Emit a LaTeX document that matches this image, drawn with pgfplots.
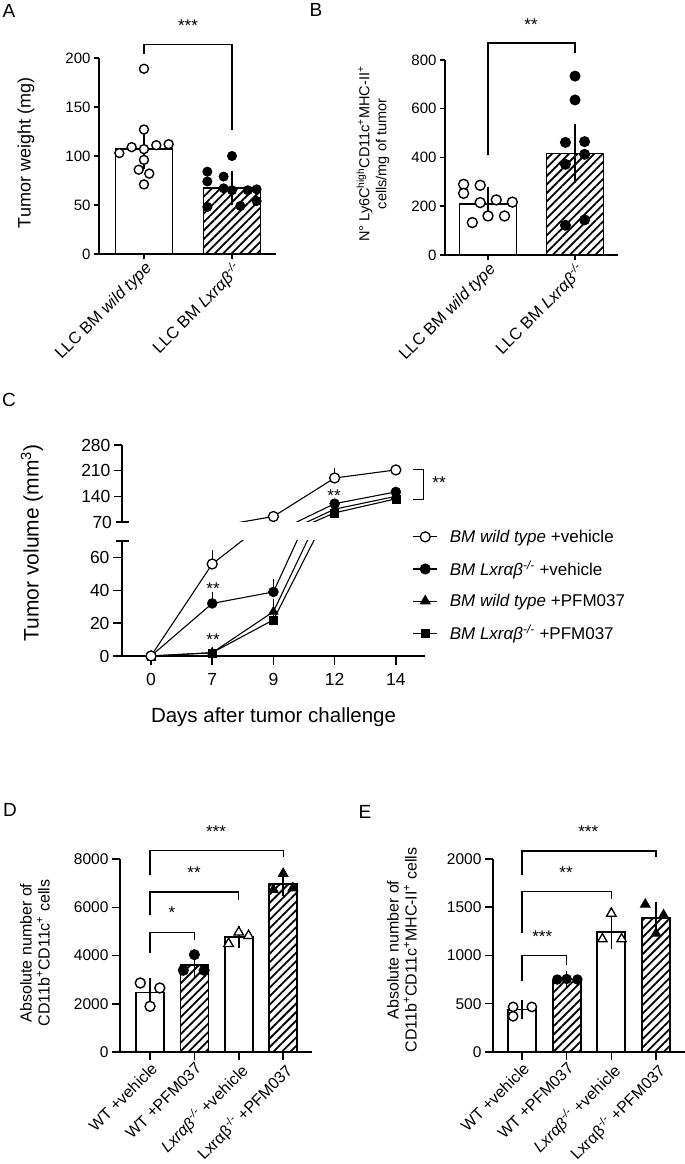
\documentclass[border=0pt]{standalone}
\usepackage{pgfplots}
\pgfplotsset{compat=1.18}
\usepackage{pgfplotstable}
\usepackage{fontspec}
\setmainfont{Liberation Sans}
\usetikzlibrary{patterns.meta}

\newcommand{\fTick}{\fontsize{15}{18}\selectfont}
\newcommand{\fTickC}{\fontsize{17.5}{20}\selectfont}
\newcommand{\fTickD}{\fontsize{15.5}{18}\selectfont}
\newcommand{\fLet}{\fontsize{19}{22}\selectfont}
\newcommand{\fStar}{\fontsize{17}{20}\selectfont}

\pgfplotstableread{
x wv ewv kv ekv wp ewp kp ekp
0 0 0 0 0 0 0 0 0
1 56 6 32 4.5 2 0 2 0.5
2 85 0 39 5 27 5 22 0
3 190 15 120 0 105 0 95 0
4 212 0 152 0 140 0 133 0
}\dataC

\tikzset{brk/.style={line width=1.3pt, black}}

\pgfplotsset{
  panel/.style={
    scale only axis,
    anchor=south west,
    axis x line*=bottom, axis y line*=left,
    axis line style={line width=1.8pt, -},
    tick align=outside,
    xtick pos=left, ytick pos=left,
    major tick length=5pt,
    tick style={line width=1.5pt, black},
    yticklabel style={font=\fTick},
    xticklabel style={font=\fTick, rotate=45, anchor=north east, inner sep=1pt},
    clip=false,
  },
  openbar/.style={ybar, bar shift=0pt, draw=black, line width=1.8pt, fill=white,
    error bars/y dir=both, error bars/y explicit,
    error bars/error bar style={line width=1.5pt, black},
    error bars/error mark options={line width=1.5pt, black, mark size=#1}},
  hatchbar/.style={ybar, bar shift=0pt, draw=black, line width=1.8pt,
    pattern={Lines[angle=45,distance=6pt,line width=1.8pt]},
    error bars/y dir=both, error bars/y explicit,
    error bars/error bar style={line width=1.5pt, black},
    error bars/error mark options={line width=1.5pt, black, mark size=#1}},
  opencirc/.style={only marks, mark=*, mark size=#1, mark options={draw=black, fill=white, line width=1.4pt}},
  fillcirc/.style={only marks, mark=*, mark size=#1, mark options={draw=black, fill=black, line width=1pt}},
  opentri/.style={only marks, mark=triangle*, mark size=#1, mark options={draw=black, fill=white, line width=1.3pt}},
  filltri/.style={only marks, mark=triangle*, mark size=#1, mark options={draw=black, fill=black, line width=1pt}},
  cerr/.style={error bars/y dir=plus, error bars/y explicit,
    error bars/error bar style={line width=1.1pt, black},
    error bars/error mark options={line width=1.1pt, black, mark size=4.5pt}},
}

\begin{document}
\begin{tikzpicture}
\path[use as bounding box] (0pt,0pt) rectangle (685pt,1164pt);

%% ---------------- Panel A ----------------
\begin{axis}[panel, at={(99pt,910pt)}, width=177pt, height=196pt,
  xmin=-0.511, xmax=1.5, ymin=0, ymax=200,
  xtick={0,1}, xticklabel style={font=\fontsize{16.5}{19}\selectfont},
  xticklabels={LLC BM \textit{wild type}, LLC BM \textit{Lxrαβ}\textsuperscript{\textit{-/-}}},
  ytick={0,50,100,150,200}, yticklabels={0,50,100,150,200}]
\addplot[openbar=12pt, bar width=57pt] coordinates {(0,107) +- (0,8.5)};
\addplot[hatchbar=12pt, bar width=57pt] coordinates {(1,67) +- (0,5)};
\addplot[opencirc=4.5pt] coordinates {(-0.28,103) (-0.14,109) (0,107) (0.14,111) (0.28,112) (0,189) (0,127) (0,96) (-0.06,86) (0.06,82) (0,71)};
\addplot[fillcirc=4.5pt] coordinates {(1,100) (0.72,84) (0.72,74) (0.905,79) (0.905,67) (1,65) (1.18,65) (1.28,66) (1.28,54) (0.72,48) (1.095,49)};
\draw[brk] (axis cs:0,204) |- (axis cs:1,214) -- (axis cs:1,127);
\end{axis}

%% ---------------- Panel B ----------------
\begin{axis}[panel, at={(445pt,909pt)}, width=173pt, height=195pt,
  xmin=-0.494, xmax=1.494, ymin=0, ymax=800,
  xtick={0,1}, xticklabel style={font=\fontsize{16.5}{19}\selectfont},
  xticklabels={LLC BM \textit{wild type}, LLC BM \textit{Lxrαβ}\textsuperscript{\textit{-/-}}},
  ytick={0,200,400,600,800}, yticklabels={0,200,400,600,800}]
\addplot[openbar=12pt, bar width=57pt] coordinates {(0,210) +- (0,20)};
\addplot[hatchbar=12pt, bar width=57pt] coordinates {(1,416) +- (0,73)};
\addplot[opencirc=5pt] coordinates {(-0.28,290) (-0.09,286) (-0.28,253) (-0.09,215) (0.095,226) (0.28,217) (-0.18,133) (0,160) (0.19,160)};
\addplot[fillcirc=5pt] coordinates {(1,734) (1,636) (0.89,462) (1.11,465) (1.11,413) (0.89,372) (0.89,122) (1.11,144)};
\draw[brk] (axis cs:0,410) |- (axis cs:1,870) -- (axis cs:1,828);
\end{axis}

%% ---------------- Panel C top ----------------
\begin{axis}[scale only axis, anchor=south west, at={(122pt,642pt)}, width=302.6pt, height=77pt,
  xmin=-0.474, xmax=4.47, ymin=70, ymax=280,
  axis x line=none, axis y line*=left,
  axis line style={line width=1.8pt, -},
  tick align=outside, ytick pos=left, major tick length=8pt,
  tick style={line width=1.5pt, black},
  yticklabel style={font=\fTickC},
  ytick={140,210,280}, yticklabels={140,210,280},
  extra y ticks={70}, extra y tick labels={70},
  extra y tick style={tick align=center, major tick length=13pt},
  clip=true]
\addplot[black, line width=1.1pt, no marks, forget plot] table[x=x,y=kp] \dataC;
\addplot[black, line width=1.1pt, no marks, forget plot] table[x=x,y=wp] \dataC;
\addplot[black, line width=1.1pt, no marks, forget plot] table[x=x,y=kv] \dataC;
\addplot[black, line width=1.1pt, no marks, forget plot] table[x=x,y=wv] \dataC;
\addplot[only marks, mark=square*, mark size=4pt, mark options={fill=black, draw=black}, restrict y to domain=70:280, cerr] table[x=x,y=kp,y error=ekp] \dataC;
\addplot[only marks, mark=triangle*, mark size=5.5pt, mark options={fill=black, draw=black}, restrict y to domain=70:280, cerr] table[x=x,y=wp,y error=ewp] \dataC;
\addplot[only marks, mark=*, mark size=5pt, mark options={fill=black, draw=black}, restrict y to domain=70:280, cerr] table[x=x,y=kv,y error=ekv] \dataC;
\addplot[only marks, mark=*, mark size=5pt, mark options={fill=white, draw=black, line width=1.3pt}, restrict y to domain=70:280, cerr] table[x=x,y=wv,y error=ewv] \dataC;
\end{axis}

%% ---------------- Panel C bottom ----------------
\begin{axis}[scale only axis, anchor=south west, at={(122pt,508pt)}, width=302.6pt, height=115pt,
  xmin=-0.474, xmax=4.47, ymin=0, ymax=70,
  axis x line*=bottom, axis y line*=left,
  axis line style={line width=1.8pt, -},
  tick align=outside, xtick pos=left, ytick pos=left, major tick length=9pt,
  tick style={line width=1.5pt, black},
  ticklabel style={font=\fTickC},
  xticklabel style={yshift=-5pt},
  xtick={0,1,2,3,4}, xticklabels={0,7,9,12,14},
  ytick={0,20,40,60}, yticklabels={0,20,40,60},
  extra y ticks={70}, extra y tick labels={},
  extra y tick style={tick align=center, major tick length=13pt},
  legend image code/.code={\draw[mark repeat=2,mark phase=2] plot coordinates {(0pt,0pt) (12pt,0pt) (24pt,0pt)};},
  legend cell align=left,
  legend style={at={(0.96,1.115)}, anchor=north west, draw=none, fill=none,
    font=\fontsize{17}{20}\selectfont, row sep=13pt, inner sep=0pt,
    /tikz/every odd column/.append style={column sep=10pt}},
  clip=true]
\addplot[black, line width=1.1pt, no marks, forget plot] table[x=x,y=kp] \dataC;
\addplot[black, line width=1.1pt, no marks, forget plot] table[x=x,y=wp] \dataC;
\addplot[black, line width=1.1pt, no marks, forget plot] table[x=x,y=kv] \dataC;
\addplot[black, line width=1.1pt, no marks, forget plot] table[x=x,y=wv] \dataC;
\addplot[only marks, mark=square*, mark size=4pt, mark options={fill=black, draw=black}, restrict y to domain=0:70, forget plot, cerr] table[x=x,y=kp,y error=ekp] \dataC;
\addplot[only marks, mark=triangle*, mark size=5.5pt, mark options={fill=black, draw=black}, restrict y to domain=0:70, forget plot, cerr] table[x=x,y=wp,y error=ewp] \dataC;
\addplot[only marks, mark=*, mark size=5pt, mark options={fill=black, draw=black}, restrict y to domain=0:70, forget plot, cerr] table[x=x,y=kv,y error=ekv] \dataC;
\addplot[only marks, mark=*, mark size=5pt, mark options={fill=white, draw=black, line width=1.3pt}, restrict y to domain=0:70, forget plot, cerr] table[x=x,y=wv,y error=ewv] \dataC;
\addlegendimage{black, line width=1.1pt, mark=*, mark size=5pt, mark options={fill=white, line width=1.3pt}}
\addlegendentry{\textit{BM wild type} +vehicle}
\addlegendimage{black, line width=1.1pt, mark=*, mark size=5pt, mark options={fill=black}}
\addlegendentry{\textit{BM Lxrαβ}\textsuperscript{\textit{-/-}} +vehicle}
\addlegendimage{black, line width=1.1pt, mark=triangle*, mark size=5.5pt, mark options={fill=black}}
\addlegendentry{\textit{BM wild type} +PFM037}
\addlegendimage{black, line width=1.1pt, mark=square*, mark size=4pt, mark options={fill=black}}
\addlegendentry{\textit{BM Lxrαβ}\textsuperscript{\textit{-/-}} +PFM037}
\end{axis}

%% ---------------- Panel D ----------------
\begin{axis}[panel, at={(120pt,112pt)}, width=192pt, height=193pt,
  xmin=-0.677, xmax=3.65, ymin=0, ymax=8000, major tick length=8pt,
  yticklabel style={font=\fTickD},
  xtick={0,1,2,3}, xticklabel style={font=\fontsize{16}{19}\selectfont},
  xticklabels={WT +vehicle, WT +PFM037, \textit{Lxrαβ}\textsuperscript{\textit{-/-}} +vehicle, Lxrαβ\textsuperscript{-/-} +PFM037},
  ytick={0,2000,4000,6000,8000}, yticklabels={0,2000,4000,6000,8000}]
\addplot[openbar=7.5pt, bar width=28pt] coordinates {(0,2470) +- (0,290)};
\addplot[hatchbar=7.5pt, bar width=28pt] coordinates {(1,3600) +- (0,230)};
\addplot[openbar=7.5pt, bar width=28pt] coordinates {(2,4760) +- (0,150)};
\addplot[hatchbar=7.5pt, bar width=28pt] coordinates {(3,6980) +- (0,220)};
\addplot[opencirc=5pt] coordinates {(-0.22,2860) (0.22,2653) (0,1893)};
\addplot[fillcirc=5pt] coordinates {(1,4035) (0.75,3385) (1.22,3385)};
\addplot[opentri=5.5pt] coordinates {(2,4960) (1.77,4490) (2.22,4822)};
\addplot[filltri=5.5pt] coordinates {(3,7392) (2.78,6729) (3.22,6798)};
\draw[brk] (axis cs:0,4104) |- (axis cs:1,4960) -- (axis cs:1,4656);
\draw[brk] (axis cs:0,5693) |- (axis cs:2,6632) -- (axis cs:2,6314);
\draw[brk] (axis cs:0,7351) |- (axis cs:3,8345) -- (axis cs:3,8083);
\end{axis}

%% ---------------- Panel E ----------------
\begin{axis}[panel, at={(493pt,112pt)}, width=192pt, height=193pt,
  xmin=-0.65, xmax=3.65, ymin=0, ymax=2000, major tick length=8pt,
  yticklabel style={font=\fTickD},
  xtick={0,1,2,3}, xticklabel style={font=\fontsize{16}{19}\selectfont},
  xticklabels={WT +vehicle, WT +PFM037, \textit{Lxrαβ}\textsuperscript{\textit{-/-}} +vehicle, Lxrαβ\textsuperscript{-/-} +PFM037},
  ytick={0,500,1000,1500,2000}, yticklabels={0,500,1000,1500,2000}]
\addplot[openbar=7.5pt, bar width=28pt] coordinates {(0,440) +- (0,25)};
\addplot[hatchbar=7.5pt, bar width=28pt] coordinates {(1,752) +- (0,8)};
\addplot[openbar=7.5pt, bar width=28pt] coordinates {(2,1240) +- (0,100)};
\addplot[hatchbar=7.5pt, bar width=28pt] coordinates {(3,1390) +- (0,85)};
\addplot[opencirc=4.7pt] coordinates {(-0.2,467) (0.22,467) (-0.2,370)};
\addplot[fillcirc=4.7pt] coordinates {(0.79,751) (1,757) (1.24,751)};
\addplot[opentri=5.5pt] coordinates {(2,1436) (1.8,1170) (2.23,1170)};
\addplot[filltri=5.5pt] coordinates {(2.76,1529) (3.17,1419) (3,1228)};
\draw[brk] (axis cs:0,733) |- (axis cs:1,997) -- (axis cs:1,900);
\draw[brk] (axis cs:0,1235) |- (axis cs:2,1661) -- (axis cs:2,1581);
\draw[brk] (axis cs:0,1834) |- (axis cs:3,2083) -- (axis cs:3,2017);
\end{axis}

%% ---------------- Text annotations ----------------
\begin{scope}[x=1pt, y=1pt]
\node[font=\fLet] at (9,1153) {A};
\node[font=\fLet] at (316,1154) {B};
\node[font=\fLet] at (9,764) {C};
\node[font=\fLet] at (10,354) {D};
\node[font=\fLet] at (365,352) {E};
\node[rotate=90, font=\fontsize{18}{21}\selectfont] at (26,1011) {Tumor weight (mg)};
\node[rotate=90, align=center, font=\fontsize{14.5}{17}\selectfont] at (373,1010) {N° Ly6C\textsuperscript{high}CD11c\textsuperscript{+}MHC-II\textsuperscript{+}\\cells/mg of tumor};
\node[rotate=90, font=\fontsize{21}{24}\selectfont] at (32,621) {Tumor volume (mm\textsuperscript{3})};
\node[font=\fontsize{20.5}{24}\selectfont] at (273.5,447) {Days after tumor challenge};
\node[rotate=90, align=center, font=\fontsize{16}{18}\selectfont] at (35,211) {Absolute number of\\CD11b\textsuperscript{+}CD11c\textsuperscript{+} cells};
\node[rotate=90, align=center, font=\fontsize{16}{18}\selectfont] at (402,214) {Absolute number of\\CD11b\textsuperscript{+}CD11c\textsuperscript{+}MHC-II\textsuperscript{+} cells};
\node[font=\fStar, anchor=base] at (188,1132) {***};
\node[font=\fStar, anchor=base] at (531,1133) {**};
\node[font=\fStar, anchor=base] at (213,569.6) {**};
\node[font=\fStar, anchor=base] at (213,518) {**};
\node[font=\fStar, anchor=base] at (334,662) {**};
\node[font=\fStar, anchor=base] at (439,675) {**};
\node[font=\fStar, anchor=base] at (172,245) {*};
\node[font=\fStar, anchor=base] at (194,285) {**};
\node[font=\fStar, anchor=base] at (216,326.3) {***};
\node[font=\fStar, anchor=base] at (542.3,221.3) {***};
\node[font=\fStar, anchor=base] at (566,285.6) {**};
\node[font=\fStar, anchor=base] at (588.3,326.3) {***};
\draw[brk] (412.8,694.7) -- (423.8,694.7) -- (423.8,664.7) -- (412.8,664.7);
\end{scope}
\end{tikzpicture}
\end{document}
